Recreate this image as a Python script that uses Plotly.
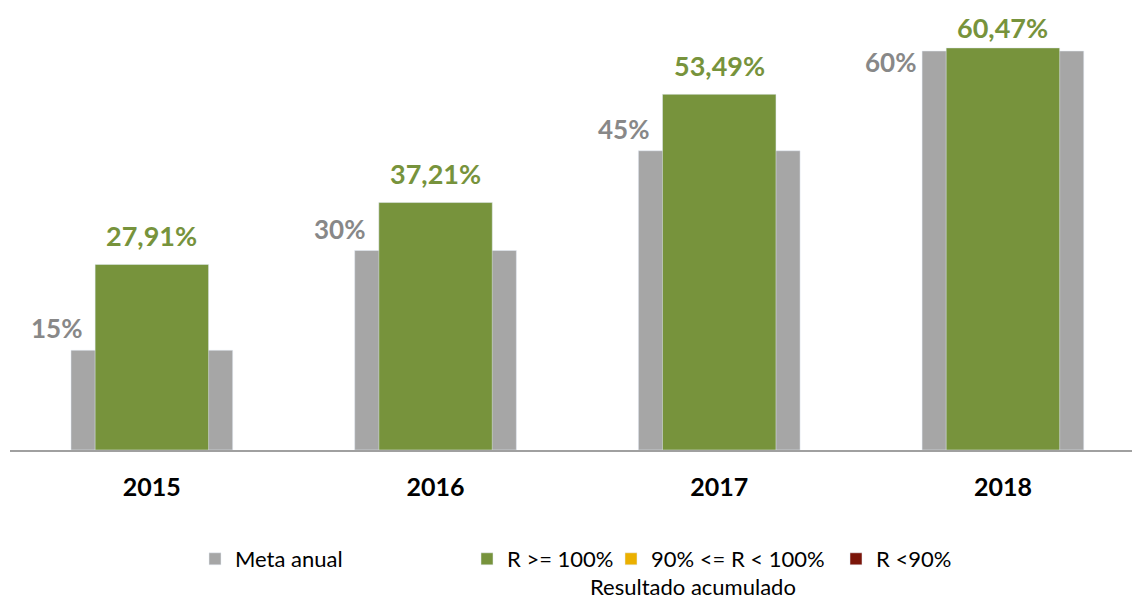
import plotly.graph_objects as go

categories = ["2015", "2016", "2017", "2018"]
meta_anual = [15, 30, 45, 60]
resultado = [27.91, 37.21, 53.49, 60.47]
meta_labels = ["15%", "30%", "45%", "60%"]
resultado_labels = ["27,91%", "37,21%", "53,49%", "60,47%"]

GRAY = "#A6A6A6"
GREEN = "#77933C"
YELLOW = "#EBB000"
RED = "#7B1509"
FONT = "Lato"

W, H = 1132, 601
ML, MR, MT, MB = 10, 0, 0, 151
YMAX = 67.67
XR = [-0.5, 3.455]
plot_w = W - ML - MR
plot_h = H - MT - MB

xs = list(range(len(categories)))
GRAY_W = 0.57
GREEN_W = 0.40

fig = go.Figure()
fig.add_trace(go.Bar(x=xs, y=meta_anual, width=GRAY_W, marker_color=GRAY,
                     name="Meta anual", legend="legend", hoverinfo="skip"))
fig.add_trace(go.Bar(x=xs, y=resultado, width=GREEN_W, marker_color=GREEN,
                     name="R >= 100%", legend="legend2", hoverinfo="skip"))
fig.add_trace(go.Bar(x=[None], y=[None], marker_color=YELLOW,
                     name="90% <= R < 100%", legend="legend3"))
fig.add_trace(go.Bar(x=[None], y=[None], marker_color=RED,
                     name="R <90%", legend="legend4"))

ppu_y = plot_h / YMAX
ppu_x = plot_w / (XR[1] - XR[0])

annotations = []
for i, (v, t) in enumerate(zip(meta_anual, meta_labels)):
    y = v + 22 / ppu_y
    if y > (plot_h - 62) / ppu_y:
        y = (plot_h - 62) / ppu_y
        x = i - GRAY_W / 2 - 4 / ppu_x
    else:
        x = i - 0.24
    annotations.append(dict(x=x, y=y, text="<b>%s</b>" % t, showarrow=False, xanchor="right",
                            yanchor="middle", font=dict(family=FONT, size=26, color="#888888")))
for i, (v, t) in enumerate(zip(resultado, resultado_labels)):
    y = min(v + 29 / ppu_y, (plot_h - 27) / ppu_y)
    annotations.append(dict(x=i, y=y, text="<b>%s</b>" % t, showarrow=False, xanchor="center",
                            yanchor="middle", font=dict(family=FONT, size=27, color=GREEN)))

annotations.append(dict(xref="paper", yref="paper", x=(693 - ML) / plot_w, y=(plot_h - (586 - MT)) / plot_h,
                        text="Resultado acumulado", showarrow=False, xanchor="center", yanchor="middle",
                        font=dict(family=FONT, size=22, color="#000000")))

def lx(px):
    return (px - ML) / plot_w

ly = (plot_h - (538 - MT)) / plot_h
leg_common = dict(orientation="h", yanchor="top", y=ly, xanchor="left",
                  font=dict(family=FONT, size=22, color="#000000"), bgcolor="rgba(0,0,0,0)",
                  itemclick=False, itemdoubleclick=False)

fig.update_layout(
    width=W, height=H,
    margin=dict(l=ML, r=MR, t=MT, b=MB),
    barmode="overlay",
    plot_bgcolor="white", paper_bgcolor="white",
    showlegend=True,
    legend=dict(x=lx(195), **leg_common),
    legend2=dict(x=lx(467), **leg_common),
    legend3=dict(x=lx(611), **leg_common),
    legend4=dict(x=lx(836), **leg_common),
    xaxis=dict(range=XR, tickmode="array", tickvals=xs, ticktext=["<b>%s</b>" % c for c in categories],
               showline=True, linecolor="#A0A0A0", linewidth=2, showgrid=False, zeroline=False,
               ticks="", ticklabelstandoff=14,
               tickfont=dict(family=FONT, size=25, color="#000000")),
    yaxis=dict(range=[0, YMAX], visible=False, showgrid=False, zeroline=False),
    annotations=annotations,
)

fig.write_html("out.html", config={"displayModeBar": False},
               post_script="document.body.style.margin='0px';document.body.style.overflow='hidden';")
